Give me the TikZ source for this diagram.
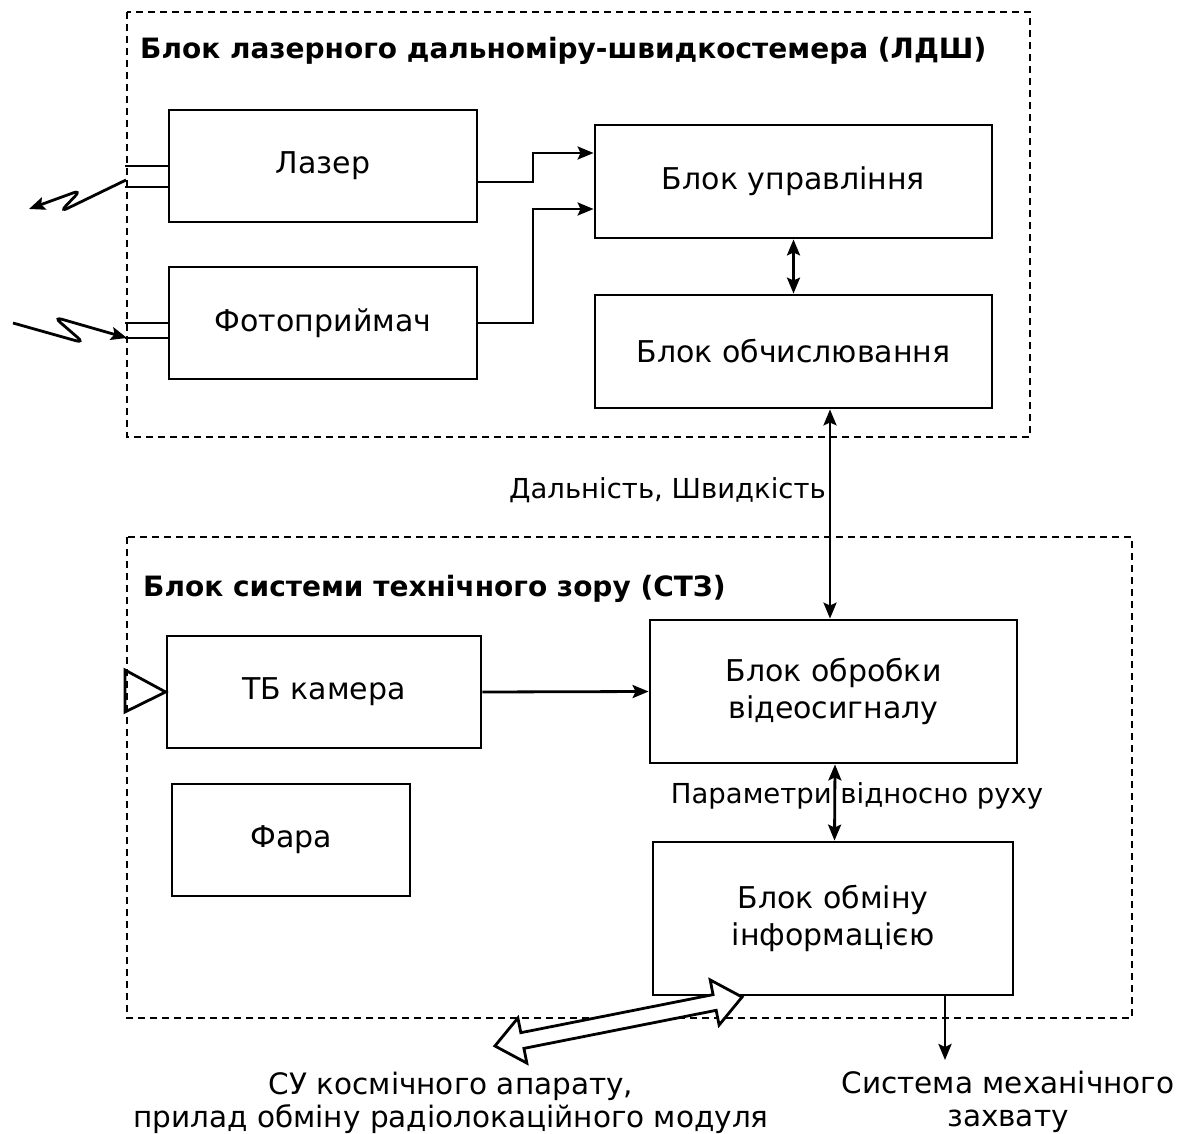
\documentclass[tikz,border=0pt]{standalone}
\usepackage{fontspec}
\setmainfont{DejaVu Sans}
\usetikzlibrary{arrows.meta,calc}
\begin{document}
\begin{tikzpicture}[x=1pt,y=-1pt,
  box/.style={draw, line width=2.8pt, inner sep=0pt, align=center, font=\fontsize{30}{37}\selectfont},
  group/.style={draw, line width=2.4pt, dash pattern=on 7pt off 5pt},
  conn/.style={line width=2.8pt, -{Stealth[length=16pt,width=13pt,inset=3pt]}},
  bconn/.style={line width=2.8pt, {Stealth[length=16pt,width=13pt,inset=3pt]}-{Stealth[length=16pt,width=13pt,inset=3pt]}},
  plain/.style={line width=2.8pt},
  elbl/.style={font=\fontsize{27.5}{34}\selectfont, align=center, inner sep=0pt},
  lbl/.style={font=\fontsize{29.5}{33}\selectfont, align=center, inner sep=0pt},
  ttl/.style={font=\bfseries\fontsize{28}{30}\selectfont, inner sep=0pt, anchor=west}]
\useasboundingbox (0,0) rectangle (1186,1134);
% groups
\draw[group] (127,12) rectangle (1030,437);
\draw[group] (127,537) rectangle (1132,1018);
\node[ttl] (t1) at (140,51) {Блок лазерного дальноміру-швидкостемера (ЛДШ)};
\node[ttl] (t2) at (143,589) {Блок системи технічного зору (СТЗ)};
% boxes
\node[box, minimum width=308, minimum height=112] (laser) at (323,166) {Лазер};
\node[box, minimum width=308, minimum height=112] (photo) at (323,323) {Фотоприймач};
\node[box, minimum width=397, minimum height=113] (upr) at (793.5,181.5) {Блок управління};
\node[box, minimum width=397, minimum height=113] (obch) at (793.5,351.5) {Блок обчислювання};
\node[box, minimum width=314, minimum height=112] (cam) at (324,692) {ТБ камера};
\node[box, minimum width=367, minimum height=143] (obr) at (833.5,691.5) {Блок обробки\\відеосигналу};
\node[box, minimum width=238, minimum height=112] (fara) at (291,840) {Фара};
\node[box, minimum width=360, minimum height=153] (obm) at (833,918.5) {Блок обміну\\інформацією};
% connectors in LDSh
\draw[conn] ([yshift=-16pt]laser.east) -| (533,153) -- ([yshift=28.5pt]upr.west);
\draw[conn] (photo.east) -| (533,209) -- ([yshift=-27.5pt]upr.west);
\draw[bconn] (upr.south) -- (obch.north);
% stubs and lightning
\coordinate (s1) at (125,166);
\coordinate (s2) at (125,187);
\coordinate (s3) at (125,323);
\coordinate (s4) at (125,338);
\draw[plain] (s1) -- (laser.west);
\draw[plain] (s2) -- (laser.west |- s2);
\draw[plain] (s3) -- (photo.west);
\draw[plain] (s4) -- (photo.west |- s4);
\coordinate (e1) at (126,180);
\coordinate (e2) at (29,209);
\draw[conn, rounded corners=8pt] (e1) -- (60,212) -- (81,190) -- (e2);
\coordinate (r1) at (13,323);
\coordinate (r2) at (127,338);
\draw[conn, rounded corners=8pt] (r1) -- (84,343) -- (54,317) -- (r2);
% camera input triangle
\coordinate (tr1) at (125,670);
\coordinate (tr2) at (125,712);
\draw[plain, line join=miter] (tr1) -- (cam.west) -- (tr2) -- cycle;
% STZ connectors
\draw[conn] (cam.east) -- (obr.west);
\draw[bconn] ($(obch.south)+(36.5,0)$) -- ($(obr.north)+(-3.5,0)$);
\node[elbl, anchor=east] (l1) at (826,490) {Дальність, Швидкість};
\draw[bconn] ($(obr.south)+(1.5,0)$) -- ($(obm.north)+(1.5,0)$);
\node[elbl] (l2) at (857,796) {Параметри відносно руху};
\coordinate (mo) at (945,1060);
\draw[conn] (obm.south -| mo) -- (mo);
% hollow double arrow
\coordinate (ha) at (742,997);
\coordinate (hb) at (495,1046);
\begin{scope}[shift={($(ha)!0.5!(hb)$)}, rotate=11.2]
\draw[plain, line join=miter, fill=white]
  (-126,0) -- (-98,23) -- (-98,8) -- (98,8) -- (98,23) -- (126,0) -- (98,-23) -- (98,-8) -- (-98,-8) -- (-98,-23) -- cycle;
\end{scope}
\node[lbl] (l3) at (451,1103) {СУ космічного апарату,\\прилад обміну радіолокаційного модуля};
\node[lbl] (l4) at (1008,1102) {Система механічного\\захвату};
\end{tikzpicture}
\end{document}
